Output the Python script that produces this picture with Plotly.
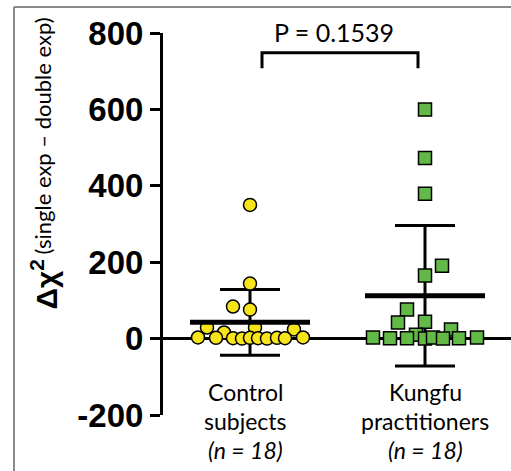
import numpy as np
import plotly.graph_objects as go

# ---- data ----
groups = ["Control", "Kungfu"]
label_lines = [["Control", "subjects", "<i>(n = 18)</i>"],
               ["Kungfu", "practitioners", "<i>(n = 18)</i>"]]
control_values = [350, 144, 84, 76, 29, 29, 24, 16, 3, 2, 1, 0, 2, 1, 0, 2, 1, 3]
control_jitter = [0, 0, -17, 0, -43, 5, 44, -26, -52, -34, -17, -8, 0, 8, 17, 27, 35, 53]
kungfu_values = [600, 473, 379, 191, 165, 76, 42, 44, 10, 24, 3, 1, 1, 0, 3, 0, 1, 3]
kungfu_jitter = [0, 0, 0, 17, 0, -18, -27, 0, -9, 26, -52, -35, -18, 0, 8, 18, 34, 52]
p_text = "P = 0.1539"
y_ticks = [-200, 0, 200, 400, 600, 800]

PX = 175.0  # pixels per x unit
xpos = [1, 2]
colors = ["#F7E51A", "#62B946"]
symbols = ["circle", "square"]

fig = go.Figure()

series = [control_values, kungfu_values]
jitters = [control_jitter, kungfu_jitter]

# SD bars (below markers)
for i, vals in enumerate(series):
    m = np.mean(vals)
    sd = np.std(vals, ddof=1)
    x = xpos[i]
    cap = 30 / PX
    fig.add_trace(go.Scatter(x=[x, x], y=[m - sd, m + sd], mode="lines",
                             line=dict(color="black", width=3), hoverinfo="skip", showlegend=False))
    for yv in (m - sd, m + sd):
        fig.add_trace(go.Scatter(x=[x - cap, x + cap], y=[yv, yv], mode="lines",
                                 line=dict(color="black", width=3), hoverinfo="skip", showlegend=False))

# points
for i, vals in enumerate(series):
    xs = [xpos[i] + j / PX for j in jitters[i]]
    fig.add_trace(go.Scatter(x=xs, y=vals, mode="markers",
                             marker=dict(symbol=symbols[i], size=13, color=colors[i],
                                         line=dict(color="black", width=1.5)),
                             showlegend=False, cliponaxis=False))

# mean bars (above markers)
for i, vals in enumerate(series):
    m = np.mean(vals)
    half = 60 / PX
    fig.add_trace(go.Scatter(x=[xpos[i] - half, xpos[i] + half], y=[m, m], mode="lines",
                             line=dict(color="black", width=5), hoverinfo="skip", showlegend=False))

# plot area in pixels: x 163..511, y 33..415
W, H = 511, 471
L, R, T, B = 163, 0, 33, 56
pw = W - L - R
ph = H - T - B

def px_x(p):
    return (p - L) / pw

def px_y(p):
    return (H - B - p) / ph

shapes = []
# zero line
shapes.append(dict(type="line", xref="paper", yref="y", x0=px_x(152), x1=1.0, y0=0, y1=0,
                   line=dict(color="black", width=3), layer="below"))
# frame (left and top edges)
shapes.append(dict(type="line", xref="paper", yref="paper", x0=px_x(14), x1=px_x(14),
                   y0=px_y(471), y1=px_y(7), line=dict(color="#8a8a8a", width=2)))
shapes.append(dict(type="line", xref="paper", yref="paper", x0=px_x(14), x1=px_x(511),
                   y0=px_y(7), y1=px_y(7), line=dict(color="#8a8a8a", width=2)))
# bracket
bx0, bx1 = 1 + 12 / PX, 2 - 7 / PX
shapes.append(dict(type="path", xref="x", yref="y",
                   path=f"M {bx0},708 L {bx0},748 L {bx1},748 L {bx1},708",
                   line=dict(color="black", width=3)))

annotations = []
line_y = [392, 421, 450]
for i, lines in enumerate(label_lines):
    for k, txt in enumerate(lines):
        annotations.append(dict(x=xpos[i] - (5 / PX if i == 0 else 0), y=px_y(line_y[k]),
                                xref="x", yref="paper", text=txt, showarrow=False,
                                font=dict(family="Lato", size=23, color="black"),
                                xanchor="center", yanchor="middle", align="center"))
annotations.append(dict(x=1.5 - 4 / PX, y=px_y(32), xref="x", yref="paper", text=p_text,
                        showarrow=False, font=dict(family="Lato", size=25, color="black"),
                        xanchor="center", yanchor="middle"))
# y title in two parts
annotations.append(dict(x=px_x(44), y=px_y(312), xref="paper", yref="paper",
                        text="<b>Δχ<sup>2</sup></b>", textangle=-90, showarrow=False,
                        font=dict(family="Liberation Sans", size=30, color="black"),
                        xanchor="center", yanchor="bottom"))
annotations.append(dict(x=px_x(42), y=px_y(257), xref="paper", yref="paper",
                        text="(single exp – double exp)", textangle=-90, showarrow=False,
                        font=dict(family="Lato", size=22, color="black"),
                        xanchor="center", yanchor="bottom"))

fig.update_layout(
    width=W, height=H, autosize=False,
    margin=dict(l=L, r=R, t=T, b=B, pad=0),
    paper_bgcolor="white", plot_bgcolor="white",
    shapes=shapes, annotations=annotations,
    xaxis=dict(range=[1 - 87 / PX, 2 + 86 / PX], visible=False, showgrid=False, zeroline=False),
    yaxis=dict(range=[-200, 800], tickvals=y_ticks, ticktext=[str(v) for v in y_ticks],
               showline=True, linecolor="black", linewidth=3,
               ticks="outside", ticklen=10, tickwidth=2.5, tickcolor="black",
               showgrid=False, zeroline=False,
               tickfont=dict(family="Liberation Sans", size=33, color="black", weight="bold")),
)

fig.write_html("out.html", config={"displayModeBar": False},
               post_script="document.body.style.margin='0px';document.body.style.overflow='hidden';")
